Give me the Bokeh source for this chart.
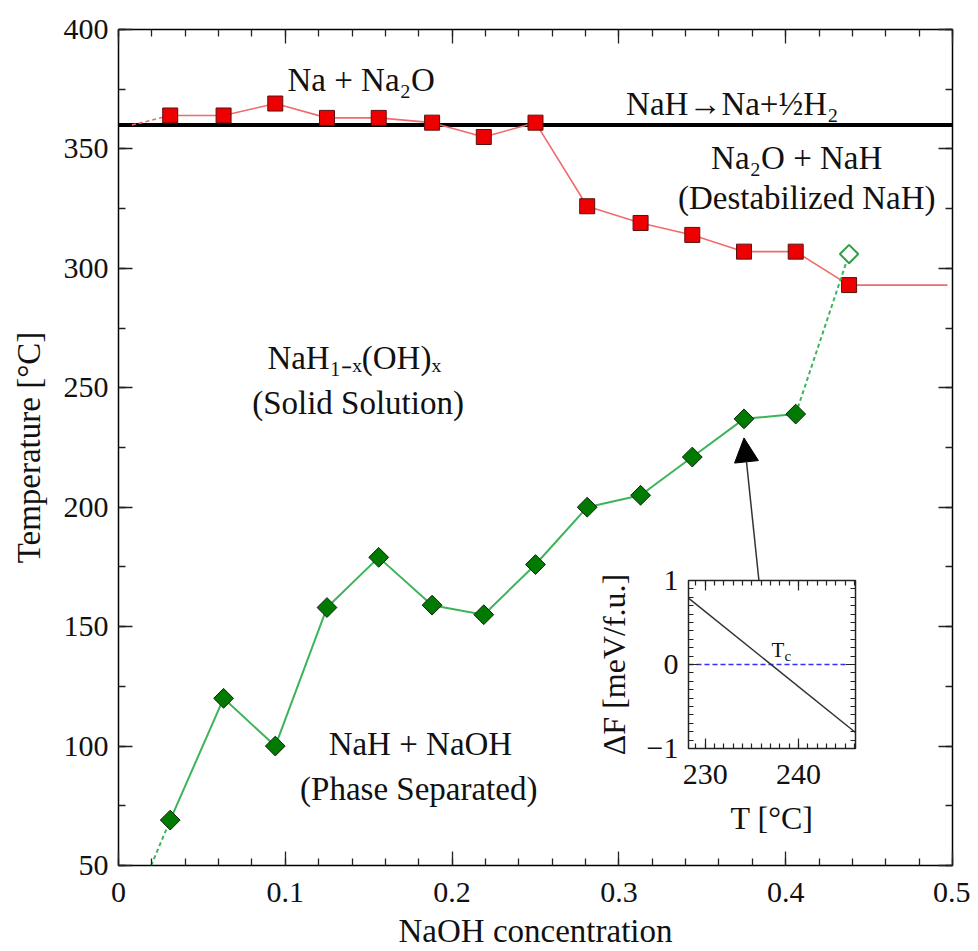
import numpy as np
from bokeh.plotting import figure
from bokeh.models import (Range1d, LinearAxis, FixedTicker, Arrow, NormalHead, Label)
from bokeh.layouts import column
from bokeh.embed import file_html
from bokeh.resources import INLINE

# ---------------- data ----------------
conc = [0.031, 0.063, 0.094, 0.125, 0.156, 0.188, 0.219, 0.25, 0.281, 0.313, 0.344, 0.375, 0.406, 0.438]
t_decomp = [364, 364, 369, 363, 363, 361, 355, 361, 326, 319, 314, 307, 307, 293]
conc_sep = [0.031, 0.063, 0.094, 0.125, 0.156, 0.188, 0.219, 0.25, 0.281, 0.313, 0.344, 0.375, 0.406]
t_sep = [69, 120, 100, 158, 179, 159, 155, 176, 200, 205, 221, 237, 239]
conc_open = [0.438]
t_open = [306]
red_lead_x = [0.008, 0.031]
red_lead_t = [360, 364]
red_tail_x = [0.438, 0.497]
red_tail_t = [293, 293]
green_lead_x = [0.0196, 0.031]
green_lead_t = [50, 69]
green_tail_x = [0.406, 0.438]
green_tail_t = [239, 306]
nah_x = [0.0, 0.5]
nah_t = [360, 360]

x_ticks = [0, 0.1, 0.2, 0.3, 0.4, 0.5]
x_tick_labels = ["0", "0.1", "0.2", "0.3", "0.4", "0.5"]
y_ticks = [50, 100, 150, 200, 250, 300, 350, 400]
y_tick_labels = ["50", "100", "150", "200", "250", "300", "350", "400"]

# inset data
inset_T = [228.2, 246.1]
inset_dF = [0.79, -0.81]
inset_zero_T = [228.2, 245.0]
inset_zero_F = [0, 0]
inset_x_ticks = [230, 240]
inset_x_labels = ["230", "240"]
inset_y_ticks = [-1, 0, 1]
inset_y_labels = ["\u22121", "0", "1"]

# arrow (main-plot data coordinates)
arrow_from = (0.384, 169)
arrow_to = (0.375, 229)

# region labels: (text, x, y)
region_labels = [
    ("Na + Na\u2082O", 0.1455, 379),
    ("NaH\u2192Na+\u00bdH\u2082", 0.368, 369),
    ("Na\u2082O + NaH", 0.4066, 346),
    ("(Destabilized NaH)", 0.4126, 329.6),
    ("NaH\u2081\u208b\u2093(OH)\u2093", 0.1413, 262.6),
    ("(Solid Solution)", 0.1436, 243.8),
    ("NaH + NaOH", 0.181, 101),
    ("(Phase Separated)", 0.180, 82),
]

FONT = "Liberation Serif"
RED_LINE = "#f26a6a"
RED_FILL = "#ee0000"
GREEN_LINE = "#3cb45a"
GREEN_FILL = "#007a00"

# ---------------- main figure ----------------
p = figure(width=970, height=951, output_backend="svg", toolbar_location=None,
           x_range=Range1d(0, 0.5), y_range=Range1d(50, 400),
           min_border_left=118, min_border_top=29, min_border_right=17, min_border_bottom=86)
p.xgrid.visible = False
p.ygrid.visible = False
p.outline_line_color = "black"
p.outline_line_width = 1.5
p.background_fill_color = "white"

xt = FixedTicker(ticks=x_ticks, minor_ticks=list(np.round(np.arange(0, 0.5001, 0.02), 3)))
yt = FixedTicker(ticks=y_ticks, minor_ticks=list(np.arange(50, 401, 25)))

def style_axis(ax, ticks=None, labels=None, size="30px", label_size="33px"):
    ax.major_tick_in = 14
    ax.major_tick_out = 0
    ax.minor_tick_in = 7
    ax.minor_tick_out = 0
    ax.major_tick_line_color = "#222222"
    ax.minor_tick_line_color = "#222222"
    ax.major_tick_line_width = 1.3
    ax.minor_tick_line_width = 1.3
    ax.axis_line_color = None
    ax.major_label_text_font = FONT
    ax.major_label_text_color = "#111111"
    ax.major_label_text_font_size = size
    ax.axis_label_text_font = FONT
    ax.axis_label_text_font_style = "normal"
    ax.axis_label_text_color = "#111111"
    ax.axis_label_text_font_size = label_size
    if labels is None:
        ax.major_label_overrides = {t: "" for t in ticks}
        ax.major_label_standoff = 0
    else:
        ax.major_label_overrides = dict(zip(ticks, labels))

p.xaxis.ticker = xt
p.yaxis.ticker = yt
style_axis(p.xaxis[0], x_ticks, x_tick_labels)
style_axis(p.yaxis[0], y_ticks, y_tick_labels)
p.xaxis.axis_label = "NaOH concentration"
p.yaxis.axis_label = "Temperature [\u00b0C]"
p.xaxis.major_label_standoff = 17
p.xaxis.axis_label_standoff = 8
p.yaxis.major_label_standoff = 10
p.yaxis.axis_label_standoff = 14

top_ax = LinearAxis(ticker=xt)
style_axis(top_ax, x_ticks)
p.add_layout(top_ax, "above")
right_ax = LinearAxis(ticker=yt)
style_axis(right_ax, y_ticks)
p.add_layout(right_ax, "right")

# NaH decomposition line
p.line(nah_x, nah_t, line_color="black", line_width=4)

# red: decomposition of solid solution
p.line(red_lead_x, red_lead_t, line_color=RED_LINE, line_width=1.6, line_dash="4 3")
p.line(conc, t_decomp, line_color=RED_LINE, line_width=1.6)
p.line(red_tail_x, red_tail_t, line_color=RED_LINE, line_width=1.6)
p.scatter(conc, t_decomp, marker="square", size=15, fill_color=RED_FILL,
          line_color="#5a1010", line_width=1)

# green: phase separation
p.line(green_lead_x, green_lead_t, line_color=GREEN_LINE, line_width=2, line_dash="4 3")
p.line(green_tail_x, green_tail_t, line_color=GREEN_LINE, line_width=2, line_dash="4 3")
p.line(conc_sep, t_sep, line_color=GREEN_LINE, line_width=2)
p.scatter(conc_sep, t_sep, marker="square", angle=np.pi / 4, size=14,
          fill_color=GREEN_FILL, line_color="#102010", line_width=1)
p.scatter(conc_open, t_open, marker="square", angle=np.pi / 4, size=13,
          fill_color="white", line_color="#2fa040", line_width=2)

for txt, x, y in region_labels:
    p.add_layout(Label(x=x, y=y, text=txt, text_font=FONT, text_font_size="33px",
                       text_align="center", text_baseline="middle", text_color="#111111"))

p.add_layout(Arrow(end=NormalHead(size=24, fill_color="black", line_color="black"),
                   x_start=arrow_from[0], y_start=arrow_from[1],
                   x_end=arrow_to[0], y_end=arrow_to[1],
                   line_color="#333333", line_width=1.5))

# ---------------- inset ----------------
q = figure(width=303, height=298, output_backend="svg", toolbar_location=None,
           x_range=Range1d(228.2, 246.1), y_range=Range1d(-1, 1),
           min_border_left=118, min_border_right=18, min_border_top=20, min_border_bottom=110)
q.xgrid.visible = False
q.ygrid.visible = False
q.background_fill_color = "white"
q.border_fill_color = None
q.outline_line_color = "#222222"
q.outline_line_width = 1.5

ixt = FixedTicker(ticks=inset_x_ticks, minor_ticks=list(range(229, 247)))
iyt = FixedTicker(ticks=inset_y_ticks, minor_ticks=list(np.round(np.arange(-1, 1.001, 0.1), 2)))

def style_inset_axis(ax, ticks, labels=None):
    style_axis(ax, ticks, labels, size="30px", label_size="32px")
    ax.major_tick_in = 10
    ax.minor_tick_in = 5
    ax.major_tick_line_width = 1.2
    ax.minor_tick_line_width = 1.2

q.xaxis.ticker = ixt
q.yaxis.ticker = iyt
style_inset_axis(q.xaxis[0], inset_x_ticks, inset_x_labels)
style_inset_axis(q.yaxis[0], inset_y_ticks, inset_y_labels)
q.xaxis.axis_label = "T [\u00b0C]"
q.yaxis.axis_label = "\u0394F [meV/f.u.]"
q.xaxis.major_label_standoff = 16
q.xaxis.axis_label_standoff = 13
q.yaxis.major_label_standoff = 10
q.yaxis.axis_label_standoff = 12
q_top = LinearAxis(ticker=ixt)
style_inset_axis(q_top, inset_x_ticks)
q.add_layout(q_top, "above")
q_right = LinearAxis(ticker=iyt)
style_inset_axis(q_right, inset_y_ticks)
q.add_layout(q_right, "right")

q.line(inset_zero_T, inset_zero_F, line_color="#3030ff", line_width=1.5, line_dash="5 3")
q.line(inset_T, inset_dF, line_color="#333333", line_width=1.5)
q.add_layout(Label(x=237.1, y=0.03, text="T", text_font=FONT, text_font_size="21px",
                   text_align="left", text_baseline="bottom", text_color="#111111"))
q.add_layout(Label(x=237.1, y=0.03, x_offset=13, y_offset=-2, text="c", text_font=FONT,
                   text_font_size="15px", text_align="left", text_baseline="bottom",
                   text_color="#111111"))

q.styles = {"position": "absolute", "left": "570px", "top": "560px", "z-index": "5"}

layout = column(p, q)
open("out.html", "w").write(file_html(layout, INLINE))
